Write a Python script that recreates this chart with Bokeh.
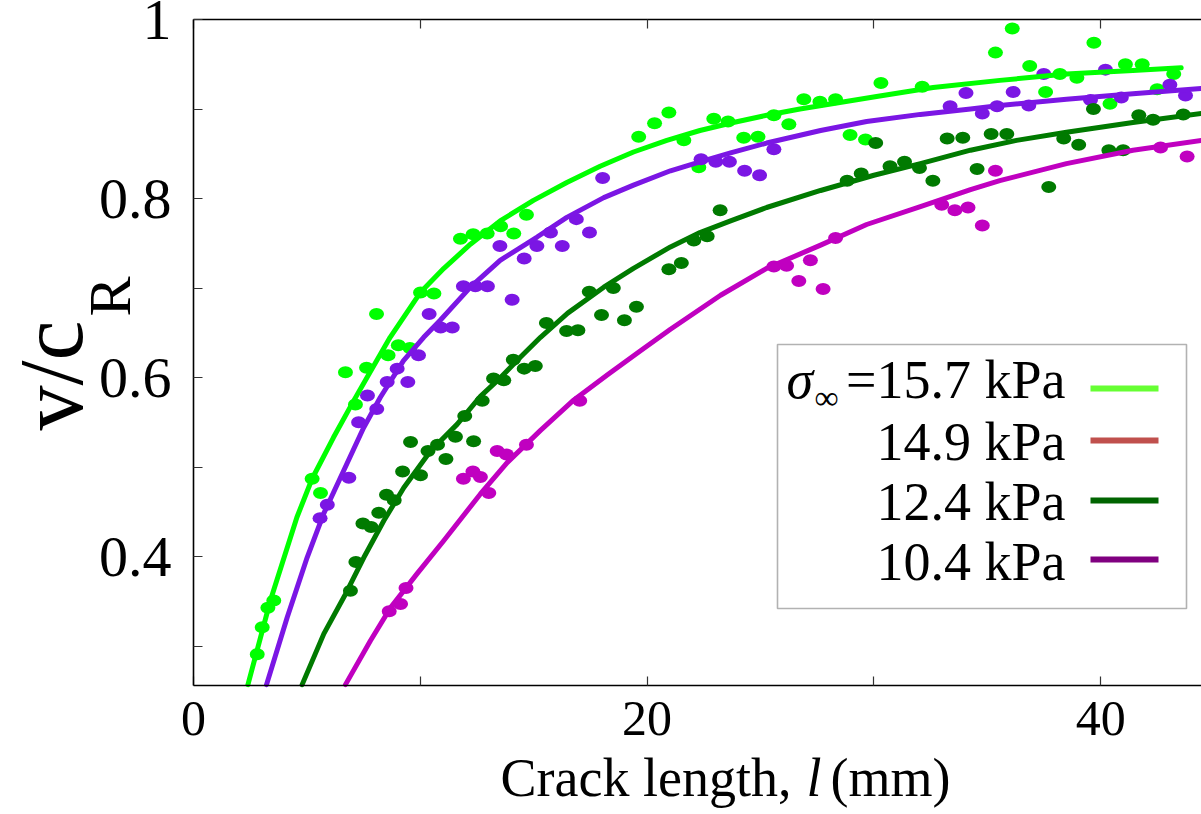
import math
from bokeh.plotting import figure
from bokeh.models import Range1d, FixedTicker, LinearAxis, Label, BoxAnnotation
from bokeh.embed import file_html
from bokeh.resources import INLINE

# ---------------- data ----------------
# measured points: crack length l (mm), v/cR
l_157 = [2.81, 3.03, 3.28, 3.54, 5.23, 5.60, 6.70, 7.14, 7.63, 8.07, 8.58, 9.03, 9.54, 10.01, 10.60,
         11.77, 12.33, 12.95, 13.54, 14.12, 14.68, 19.63, 20.33, 20.96, 21.62, 22.28, 22.94, 23.57,
         24.26, 24.89, 25.59, 26.25, 26.91, 27.62, 28.31, 28.95, 29.63, 30.31, 32.13, 35.36, 36.10,
         36.87, 37.57, 38.20, 38.95, 39.70, 40.41, 41.09, 41.83, 42.49, 43.22]
v_157 = [0.291, 0.321, 0.343, 0.351, 0.487, 0.471, 0.606, 0.570, 0.611, 0.671, 0.625, 0.636, 0.633, 0.695, 0.694,
         0.755, 0.760, 0.761, 0.769, 0.761, 0.782, 0.869, 0.884, 0.896, 0.865, 0.835, 0.889, 0.886,
         0.868, 0.869, 0.893, 0.883, 0.911, 0.908, 0.911, 0.871, 0.866, 0.929, 0.925, 0.963, 0.990,
         0.948, 0.919, 0.939, 0.935, 0.974, 0.906, 0.950, 0.950, 0.922, 0.939]

l_149 = [5.58, 5.90, 6.85, 7.28, 7.67, 8.08, 8.54, 8.98, 9.45, 9.92, 10.39, 10.90, 11.41, 11.90, 12.43,
         12.96, 13.51, 14.05, 14.58, 15.14, 15.74, 16.26, 16.88, 17.46, 18.04, 22.38, 23.03, 23.63,
         24.30, 24.96, 25.59, 33.36, 34.06, 34.78, 35.43, 36.14, 36.83, 37.49, 39.55, 40.21, 40.91,
         43.05, 43.74]
v_149 = [0.443, 0.458, 0.488, 0.550, 0.580, 0.565, 0.595, 0.610, 0.595, 0.625, 0.671, 0.656, 0.656, 0.702, 0.702,
         0.702, 0.747, 0.687, 0.733, 0.747, 0.762, 0.747, 0.777, 0.762, 0.823, 0.844, 0.841, 0.841,
         0.831, 0.826, 0.855, 0.903, 0.918, 0.895, 0.903, 0.919, 0.904, 0.939, 0.910, 0.944, 0.913,
         0.927, 0.915]

l_124 = [6.92, 7.16, 7.47, 7.83, 8.17, 8.51, 8.85, 9.22, 9.57, 10.01, 10.34, 10.76, 11.13, 11.55, 11.96,
         12.35, 12.73, 13.23, 13.68, 14.10, 14.58, 15.07, 15.56, 16.45, 16.95, 17.45, 17.99, 18.51,
         19.00, 19.53, 20.96, 21.51, 22.06, 22.65, 23.22, 28.82, 29.44, 30.08, 30.71, 31.35, 32.01,
         32.60, 33.23, 33.92, 34.55, 35.17, 35.86, 37.71, 38.37, 39.03, 39.68, 40.36, 40.99, 41.68,
         42.31, 43.64]
v_124 = [0.362, 0.394, 0.437, 0.433, 0.449, 0.469, 0.463, 0.495, 0.528, 0.491, 0.518, 0.525, 0.509, 0.534, 0.557,
         0.529, 0.574, 0.599, 0.597, 0.620, 0.610, 0.613, 0.661, 0.652, 0.653, 0.696, 0.670, 0.700,
         0.664, 0.679, 0.721, 0.728, 0.753, 0.758, 0.787, 0.820, 0.828, 0.862, 0.836, 0.841, 0.834,
         0.820, 0.867, 0.868, 0.833, 0.872, 0.872, 0.813, 0.867, 0.860, 0.900, 0.854, 0.854, 0.893,
         0.888, 0.894]

l_104 = [8.63, 9.13, 9.37, 11.90, 12.32, 12.65, 13.02, 13.39, 13.80, 14.68, 17.03, 25.59, 26.15, 26.69,
         27.20, 27.76, 28.31, 32.99, 33.57, 34.15, 34.78, 35.36, 42.64, 43.81]
v_104 = [0.339, 0.347, 0.365, 0.487, 0.495, 0.489, 0.471, 0.518, 0.514, 0.525, 0.574, 0.724, 0.725, 0.708,
         0.731, 0.699, 0.756, 0.793, 0.787, 0.790, 0.770, 0.831, 0.857, 0.847]

# fitted curves
fit_l_157 = [2.40, 3.39, 4.56, 5.23, 6.17, 7.06, 7.65, 8.67, 10.00, 11.04, 12.21, 13.52, 14.99, 16.46,
             17.93, 19.40, 20.87, 22.33, 23.80, 25.27, 26.74, 30.12, 32.61, 35.55, 38.49, 41.42, 43.55]
fit_v_157 = [0.257, 0.351, 0.444, 0.487, 0.533, 0.574, 0.600, 0.645, 0.695, 0.722, 0.749, 0.775, 0.798, 0.818,
             0.836, 0.852, 0.865, 0.876, 0.885, 0.893, 0.900, 0.914, 0.924, 0.932, 0.939, 0.943, 0.946]

fit_l_149 = [3.22, 4.13, 5.01, 5.74, 6.62, 7.50, 8.24, 9.26, 10.15, 10.88, 12.21, 13.52, 15.15, 16.46,
             18.09, 19.40, 21.03, 22.33, 23.68, 25.27, 27.65, 29.68, 32.05, 34.26, 35.55, 38.49, 41.42, 44.44]
fit_v_149 = [0.257, 0.332, 0.399, 0.448, 0.496, 0.544, 0.578, 0.619, 0.645, 0.664, 0.701, 0.731, 0.757, 0.779,
             0.801, 0.815, 0.831, 0.841, 0.851, 0.862, 0.876, 0.886, 0.894, 0.900, 0.904, 0.911, 0.917, 0.923]

fit_l_124 = [4.79, 5.75, 6.70, 7.51, 8.39, 9.27, 10.45, 11.63, 12.65, 13.54, 14.42, 15.30, 16.50, 18.09,
             19.40, 21.03, 22.33, 23.68, 25.27, 27.65, 30.00, 32.05, 34.26, 36.29, 38.49, 41.42, 44.44]
fit_v_124 = [0.257, 0.314, 0.358, 0.399, 0.440, 0.477, 0.518, 0.548, 0.579, 0.600, 0.623, 0.645, 0.672, 0.701,
             0.722, 0.746, 0.762, 0.775, 0.790, 0.809, 0.826, 0.839, 0.854, 0.865, 0.874, 0.885, 0.895]

fit_l_104 = [6.70, 7.80, 8.69, 9.86, 11.04, 12.65, 13.83, 15.30, 16.77, 18.24, 19.71, 21.03, 23.24, 25.27,
             27.65, 29.68, 32.05, 34.26, 35.55, 38.49, 41.42, 44.44]
fit_v_104 = [0.257, 0.306, 0.343, 0.381, 0.418, 0.470, 0.505, 0.541, 0.575, 0.603, 0.630, 0.654, 0.692, 0.722,
             0.748, 0.771, 0.791, 0.810, 0.820, 0.839, 0.854, 0.865]

legend_labels = ["=15.7 kPa", "14.9 kPa", "12.4 kPa", "10.4 kPa"]
x_ticks = [0, 10, 20, 30, 40]
x_tick_labels = {0: "0", 10: "", 20: "20", 30: "", 40: "40"}
y_ticks = [0.3, 0.4, 0.5, 0.6, 0.7, 0.8, 0.9, 1.0]
y_tick_labels = {0.3: "", 0.4: "0.4", 0.5: "", 0.6: "0.6", 0.7: "", 0.8: "0.8", 0.9: "", 1.0: "1"}

# ---------------- styling / layout ----------------
FONT = "Liberation Serif"
pt_colors = ["#00ff00", "#7b16e4", "#007a00", "#c000c0"]
legend_colors = ["#66ff33", "#c0504d", "#006400", "#800080"]

W, H = 1201, 814
SX, SY = 22.68, 895.2          # pixels per mm, pixels per unit of v/cR
AX_LEFT_PX, AX_TOP_PX = 193, 19
XMIN, VMIN, VMAX = 0.0, 0.256, 1.0
X0 = -AX_LEFT_PX / SX
X1 = X0 + W / SX
Y1 = VMAX + AX_TOP_PX / SY
Y0 = Y1 - H / SY
BASE_SHIFT = 0.375             # renderer places alphabetic baseline this fraction of size too low


def dx(px):  # canvas pixel -> data x (annotation placement only)
    return X0 + px / SX


def dy(py):  # canvas pixel -> data y (annotation placement only)
    return Y1 - py / SY


p = figure(width=W, height=H, output_backend="svg", toolbar_location=None,
           x_range=Range1d(X0, X1), y_range=Range1d(Y0, Y1), min_border=0,
           x_axis_type=None, y_axis_type=None)
p.outline_line_color = None
p.grid.visible = False
p.background_fill_color = "white"
p.border_fill_color = "white"


def style_axis(ax, labels, standoff, size):
    ax.axis_line_color = "black"
    ax.axis_line_width = 1.6
    ax.major_tick_in = 9
    ax.major_tick_out = 0
    ax.major_tick_line_color = "#333333"
    ax.major_tick_line_width = 1.2
    ax.minor_tick_line_color = None
    ax.major_label_text_font = FONT
    ax.major_label_text_color = "black"
    ax.major_label_text_font_size = size
    ax.major_label_standoff = standoff
    ax.major_label_overrides = labels


xb = LinearAxis(ticker=FixedTicker(ticks=x_ticks), fixed_location=VMIN, bounds=(XMIN, X1))
style_axis(xb, x_tick_labels, 16, "50px")
p.add_layout(xb, "below")

xt = LinearAxis(ticker=FixedTicker(ticks=x_ticks), fixed_location=VMAX, bounds=(XMIN, X1))
style_axis(xt, {k: "" for k in x_ticks}, 0, "0px")
p.add_layout(xt, "above")

yl = LinearAxis(ticker=FixedTicker(ticks=y_ticks), fixed_location=XMIN, bounds=(VMIN, VMAX))
style_axis(yl, y_tick_labels, 22, "58px")
p.add_layout(yl, "left")

# data points
series_pts = [(l_157, v_157), (l_149, v_149), (l_124, v_124), (l_104, v_104)]
for (xs, ys), c in zip(series_pts, pt_colors):
    p.ellipse(x=xs, y=ys, width=15, height=12, width_units="screen", height_units="screen",
              fill_color=c, line_color=None)

# fit curves
series_fit = [(fit_l_157, fit_v_157), (fit_l_149, fit_v_149), (fit_l_124, fit_v_124), (fit_l_104, fit_v_104)]
for (xs, ys), c in zip(series_fit, pt_colors):
    p.line(x=xs, y=ys, line_color=c, line_width=5, line_join="round", line_cap="round")


def text(px, py, s, size, align="left", style="normal", angle=0.0):
    # (px, py): wanted baseline point in canvas pixels
    shift = BASE_SHIFT * size
    if angle == 0.0:
        py = py - shift
    else:
        px = px - shift
    p.add_layout(Label(x=dx(px), y=dy(py), text=s, text_align=align, text_baseline="alphabetic",
                       angle=angle, text_font=FONT, text_font_style=style,
                       text_font_size=f"{size}px", text_color="black"))


# legend box
p.add_layout(BoxAnnotation(left=dx(777), right=dx(1186), top=dy(344), bottom=dy(608),
                           fill_color="white", fill_alpha=1.0, line_color="black", line_width=1.6,
                           level="annotation"))
row_base = [400, 462, 522, 582]
row_line = [388, 440, 500, 559]
for lab, c, yb, yline in zip(legend_labels, legend_colors, row_base, row_line):
    text(1065, yb, lab, 54, align="right")
    p.add_layout(BoxAnnotation(left=dx(1090), right=dx(1158), top=dy(yline - 3), bottom=dy(yline + 3),
                               fill_color=c, fill_alpha=1.0, line_color=None, level="annotation"))
text(786, 400, "σ", 54, style="italic")
text(814, 410, "∞", 34)

# x axis title with italic l
text(500, 798, "Crack length,", 54)
text(806, 798, "l", 54, style="italic")
text(830, 798, "(mm)", 54)

# y axis title v/c_R (rotated)
text(85, 430, "v/c", 90, angle=math.pi / 2)
text(132, 316, "R", 60, angle=math.pi / 2)

open("out.html", "w").write(file_html(p, INLINE))
